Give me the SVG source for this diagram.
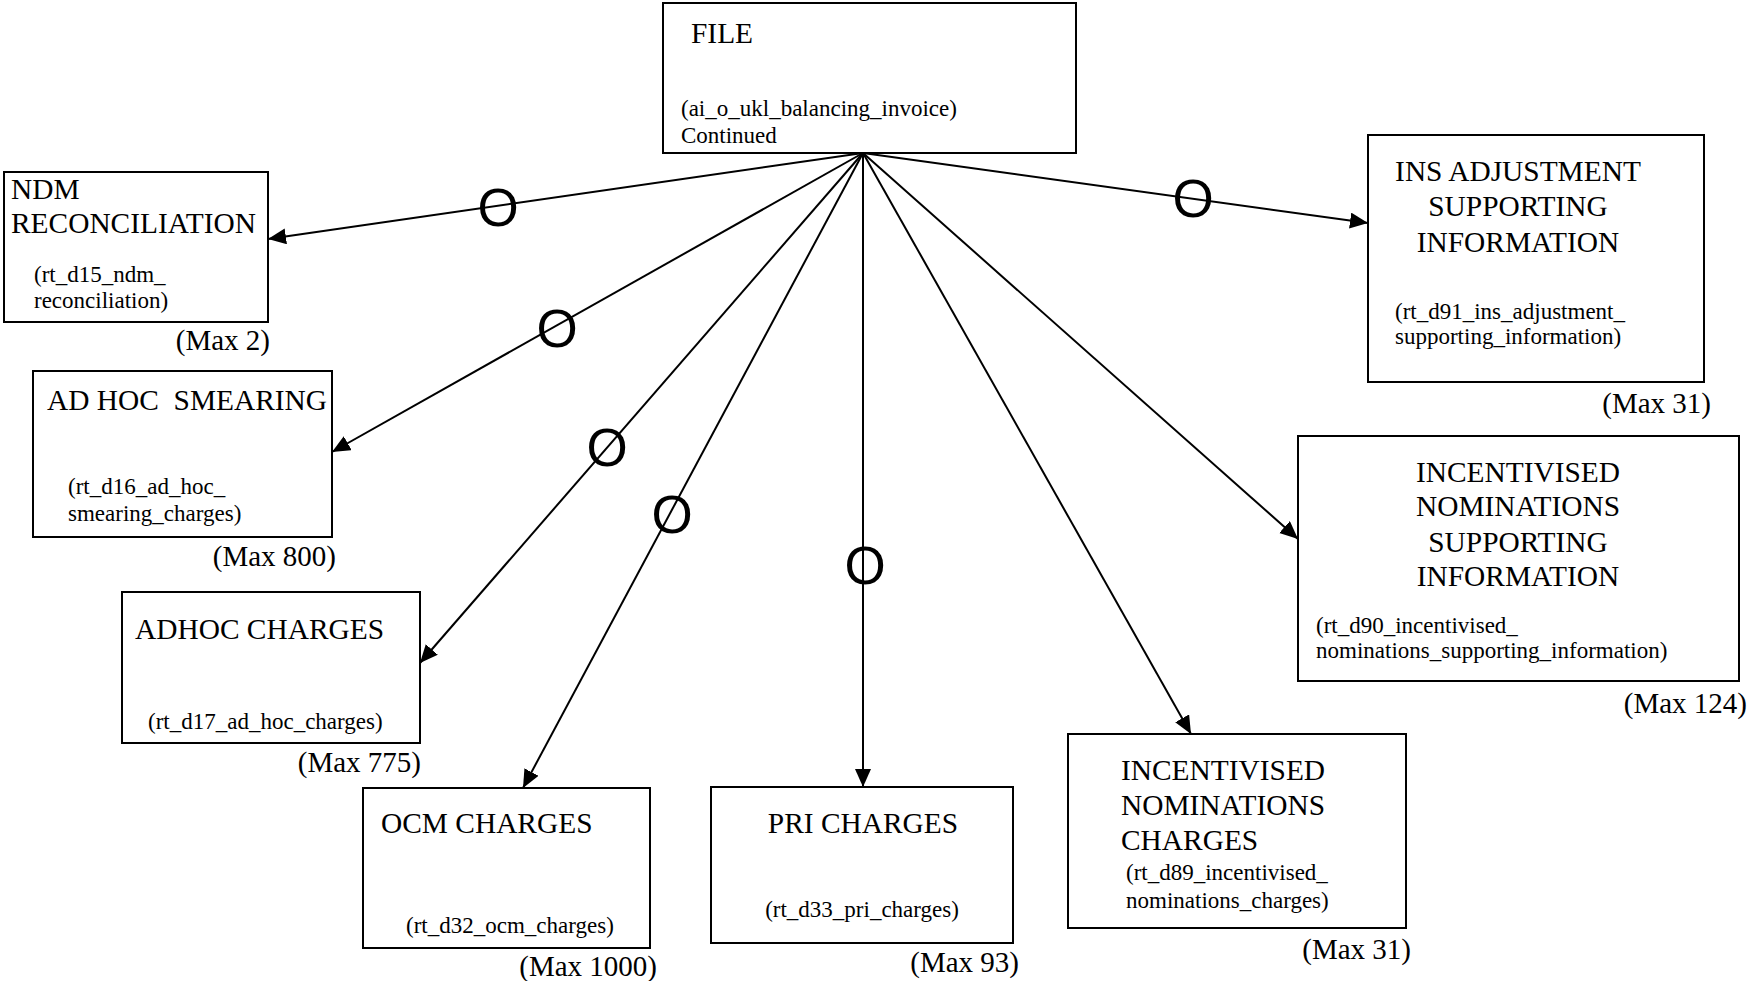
<svg xmlns="http://www.w3.org/2000/svg" width="1753" height="981" viewBox="0 0 1753 981">
<style>
.box{fill:#fff;stroke:#000;stroke-width:2}
.t{font-family:"Liberation Serif","Times New Roman",serif;font-size:29.4px;fill:#000;white-space:pre}
.s{font-family:"Liberation Serif","Times New Roman",serif;font-size:23px;fill:#000}
.m{font-family:"Liberation Serif","Times New Roman",serif;font-size:29px;fill:#000;text-anchor:end}
.o{font-family:"Liberation Sans",Arial,sans-serif;font-size:53px;fill:#000;text-anchor:middle}
.c{text-anchor:middle}
.e{stroke:#000;stroke-width:2;fill:none;marker-end:url(#arr)}
</style>
<defs>
<marker id="arr" markerUnits="userSpaceOnUse" markerWidth="20" markerHeight="18" refX="18" refY="8" orient="auto" viewBox="0 0 20 18">
<path d="M0,0 L18,8 L0,16 z" fill="#000"/>
</marker>
</defs>
<rect width="1753" height="981" fill="#fff"/>
<g id="connectors">
<line class="e" x1="863" y1="153" x2="268" y2="239"/>
<line class="e" x1="863" y1="153" x2="332" y2="452"/>
<line class="e" x1="863" y1="153" x2="420" y2="663"/>
<line class="e" x1="863" y1="153" x2="523" y2="788"/>
<line class="e" x1="863" y1="153" x2="863" y2="787"/>
<line class="e" x1="863" y1="153" x2="1191" y2="734"/>
<line class="e" x1="863" y1="153" x2="1298" y2="539"/>
<line class="e" x1="863" y1="153" x2="1368" y2="223"/>
<text class="o" x="498" y="226">O</text>
<text class="o" x="557" y="347">O</text>
<text class="o" x="607" y="466">O</text>
<text class="o" x="672" y="533">O</text>
<text class="o" x="865" y="584">O</text>
<text class="o" x="1193" y="217">O</text>
</g>
<g id="file">
<rect class="box" x="663" y="3" width="413" height="150"/>
<text class="t" x="691" y="43">FILE</text>
<text class="s" x="681" y="116">(ai_o_ukl_balancing_invoice)</text>
<text class="s" x="681" y="143">Continued</text>
</g>
<g id="ndm">
<rect class="box" x="4" y="172" width="264" height="150"/>
<text class="t" x="11" y="199">NDM</text>
<text class="t" x="11" y="233">RECONCILIATION</text>
<text class="s" x="34" y="282">(rt_d15_ndm_</text>
<text class="s" x="34" y="308">reconciliation)</text>
<text class="m" x="270" y="350">(Max 2)</text>
</g>
<g id="adhocsmearing">
<rect class="box" x="33" y="371" width="299" height="166"/>
<text class="t" x="47" y="410">AD HOC  SMEARING</text>
<text class="s" x="68" y="494">(rt_d16_ad_hoc_</text>
<text class="s" x="68" y="521">smearing_charges)</text>
<text class="m" x="336" y="566">(Max 800)</text>
</g>
<g id="adhoccharges">
<rect class="box" x="122" y="592" width="298" height="151"/>
<text class="t" x="135" y="639">ADHOC CHARGES</text>
<text class="s" x="148" y="729">(rt_d17_ad_hoc_charges)</text>
<text class="m" x="421" y="772">(Max 775)</text>
</g>
<g id="ocm">
<rect class="box" x="363" y="788" width="287" height="160"/>
<text class="t" x="381" y="833">OCM CHARGES</text>
<text class="s" x="406" y="933">(rt_d32_ocm_charges)</text>
<text class="m" x="657" y="976">(Max 1000)</text>
</g>
<g id="pri">
<rect class="box" x="711" y="787" width="302" height="156"/>
<text class="t c" x="863" y="833">PRI CHARGES</text>
<text class="s c" x="862" y="917">(rt_d33_pri_charges)</text>
<text class="m" x="1019" y="972">(Max 93)</text>
</g>
<g id="incnomcharges">
<rect class="box" x="1068" y="734" width="338" height="194"/>
<text class="t" x="1121" y="780">INCENTIVISED</text>
<text class="t" x="1121" y="815">NOMINATIONS</text>
<text class="t" x="1121" y="850">CHARGES</text>
<text class="s" x="1126" y="880">(rt_d89_incentivised_</text>
<text class="s" x="1126" y="908">nominations_charges)</text>
<text class="m" x="1411" y="959">(Max 31)</text>
</g>
<g id="incnomsupp">
<rect class="box" x="1298" y="436" width="441" height="245"/>
<text class="t c" x="1518" y="482">INCENTIVISED</text>
<text class="t c" x="1518" y="516">NOMINATIONS</text>
<text class="t c" x="1518" y="552">SUPPORTING</text>
<text class="t c" x="1518" y="586">INFORMATION</text>
<text class="s" x="1316" y="633">(rt_d90_incentivised_</text>
<text class="s" x="1316" y="658">nominations_supporting_information)</text>
<text class="m" x="1747" y="713">(Max 124)</text>
</g>
<g id="insadj">
<rect class="box" x="1368" y="135" width="336" height="247"/>
<text class="t c" x="1518" y="181">INS ADJUSTMENT</text>
<text class="t c" x="1518" y="216">SUPPORTING</text>
<text class="t c" x="1518" y="252">INFORMATION</text>
<text class="s" x="1395" y="319">(rt_d91_ins_adjustment_</text>
<text class="s" x="1395" y="344">supporting_information)</text>
<text class="m" x="1711" y="413">(Max 31)</text>
</g>
</svg>
